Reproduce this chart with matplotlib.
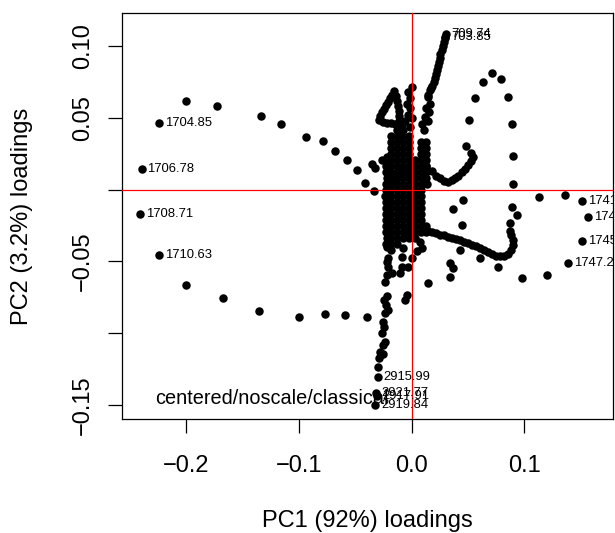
import matplotlib
matplotlib.use('Agg')
import matplotlib.pyplot as plt
from matplotlib.transforms import ScaledTranslation

# PCA loadings (PC1, PC2)

# labelled extreme wavenumbers
ext_names = ['1704.85', '1706.78', '1708.71', '1710.63', '709.74', '703.85',
             '1741.49', '1743.42', '1745.35', '1747.28',
             '2915.99', '2921.77', '2917.91', '2919.84']
ext_pc1 = [-0.2241, -0.2398, -0.2410, -0.2243, 0.0300, 0.0296,
           0.1514, 0.1562, 0.1514, 0.1389,
           -0.0302, -0.0319, -0.0310, -0.0326]
ext_pc2 = [0.0466, 0.0143, -0.0168, -0.0455, 0.1083, 0.1066,
           -0.0077, -0.0193, -0.0356, -0.0513,
           -0.1302, -0.1418, -0.1441, -0.1499]

# outer left arc
arc_pc1 = [-0.200, -0.1729, -0.200, -0.1672, -0.1352, -0.0999, -0.0771, -0.0589, -0.0399]
arc_pc2 = [0.0620, 0.0582, -0.0662, -0.0752, -0.0845, -0.0887, -0.0864, -0.0873, -0.0885]

# upper left chain
ul_pc1 = [-0.1339, -0.1159, -0.0935, -0.0789, -0.0678, -0.0571, -0.0482, -0.0417,
          -0.0334, -0.0355, -0.0326, -0.0266, -0.0222]
ul_pc2 = [0.0514, 0.0457, 0.0366, 0.0340, 0.0271, 0.0208, 0.0136, 0.0046,
          -0.0008, 0.0176, 0.0148, 0.0206, 0.0229]

# lower vertical chain (C-H stretch region)
low_pc1 = [-0.0222, -0.0208, -0.0222, -0.0237, -0.0216, -0.0246, -0.0228, -0.0208, -0.0237,
           -0.0252, -0.0246, -0.0266, -0.0237, -0.0255, -0.0281, -0.0257, -0.0290, -0.0296,
           -0.0222, -0.0208, -0.0177, -0.0075, -0.0089, -0.0089, -0.0104, -0.0044, -0.0059,
           0.0000, -0.0030, 0.0074, 0.0091, 0.0047]
low_pc2 = [-0.0502, -0.0537, -0.0594, -0.0641, -0.0741, -0.0768, -0.0803, -0.0838, -0.0861,
           -0.0919, -0.0956, -0.1000, -0.1059, -0.1082, -0.1128, -0.1144, -0.1172, -0.1238,
           -0.0397, -0.0478, -0.0583, -0.0409, -0.0467, -0.0537, -0.0583, -0.0734, -0.0768,
           -0.0478, -0.0537, -0.0365, -0.0406, -0.0428]

# scattered points right of the centre
rs_pc1 = [0.0142, 0.0340, 0.0369, 0.0340, 0.0428, 0.0606, 0.0763, 0.0976, 0.1200,
          0.1363, 0.1132, 0.0444, 0.0369, 0.0452, 0.0887, 0.0931, 0.0872]
rs_pc2 = [-0.0648, -0.0513, -0.0548, -0.0606, -0.0420, -0.0478, -0.0541, -0.0613, -0.0596,
          -0.0038, -0.0049, -0.0246, -0.0135, -0.0072, -0.0119, -0.0177, -0.0235]

# right loop
loop_pc1 = [0.0710, 0.0630, 0.0789, 0.0561, 0.0857, 0.0511, 0.0892, 0.0479, 0.0901, 0.0901]
loop_pc2 = [0.0809, 0.0751, 0.0770, 0.0635, 0.0647, 0.0484, 0.0454, 0.0303, 0.0236, 0.0039]

# hook below the horizontal line
hook_pc1 = [0.0109, 0.0145, 0.0180, 0.0216, 0.0251, 0.0287, 0.0322, 0.0357, 0.0393, 0.0428,
            0.0464, 0.0499, 0.0535, 0.0570, 0.0606, 0.0641, 0.0677, 0.0712, 0.0748, 0.0783,
            0.0819, 0.0854, 0.0881, 0.0894, 0.0894, 0.0881, 0.0872]
hook_pc2 = [-0.0274, -0.0285, -0.0295, -0.0302, -0.0313, -0.0319, -0.0330, -0.0337, -0.0347,
            -0.0354, -0.0365, -0.0375, -0.0386, -0.0396, -0.0410, -0.0424, -0.0438, -0.0452,
            -0.0462, -0.0466, -0.0462, -0.0448, -0.0420, -0.0386, -0.0351, -0.0316, -0.0288]

# arm above the horizontal line
arm_pc1 = [0.0089, 0.0127, 0.0177, 0.0216, 0.0251, 0.0287, 0.0325, 0.0357, 0.0384, 0.0411,
           0.0444, 0.0473, 0.0502, 0.0526, 0.0539, 0.0526]
arm_pc2 = [0.0206, 0.0164, 0.0129, 0.0098, 0.0079, 0.0063, 0.0056, 0.0067, 0.0081, 0.0098,
           0.0119, 0.0143, 0.0168, 0.0199, 0.0230, 0.0255]

# spike up to the top
spike_pc1 = [0.0291, 0.0282, 0.0273, 0.0264, 0.0255, 0.0248, 0.0242, 0.0233, 0.0224, 0.0216,
             0.0207, 0.0193, 0.0180, 0.0162, 0.0147, 0.0167, 0.0145, 0.0162, 0.0127, 0.0153,
             0.0118, 0.0145, 0.0091, 0.0109]
spike_pc2 = [0.1055, 0.1027, 0.0999, 0.0972, 0.0944, 0.0916, 0.0888, 0.0860, 0.0833, 0.0805,
             0.0777, 0.0749, 0.0721, 0.0693, 0.0658, 0.0707, 0.0644, 0.0596, 0.0568, 0.0540,
             0.0505, 0.0477, 0.0457, 0.0415]

# column on the vertical line
col_pc1 = [0.0000, -0.0030, -0.0015, -0.0042, -0.0015, -0.0033, 0.0000, -0.0059, -0.0015]
col_pc2 = [0.0716, 0.0679, 0.0635, 0.0596, 0.0566, 0.0519, 0.0496, 0.0477, 0.0438]

# the "4" shaped loop
four_pc1 = [-0.0157, -0.0175, -0.0192, -0.0210, -0.0228, -0.0246, -0.0263, -0.0281, -0.0290,
            -0.0255, -0.0219, -0.0184, -0.0148, -0.0113, -0.0086,
            -0.0144, -0.0130, -0.0122, -0.0117, -0.0113, -0.0113, -0.0104, -0.0104, -0.0095]
four_pc2 = [0.0686, 0.0662, 0.0638, 0.0613, 0.0589, 0.0564, 0.0540, 0.0512, 0.0484,
            0.0470, 0.0467, 0.0463, 0.0460, 0.0457, 0.0453,
            0.0651, 0.0617, 0.0582, 0.0547, 0.0512, 0.0477, 0.0436, 0.0394, 0.0352]

# dense core around the origin (strands from left to right)
core_pc1 = [
    -0.0229, -0.0226, -0.0231, -0.0224, -0.0230, -0.0227, -0.0233, -0.0225, -0.0230, -0.0228,
    -0.0232, -0.0226, -0.0229, -0.0224, -0.0231,
    -0.0186, -0.0181, -0.0187, -0.0183, -0.0180, -0.0188, -0.0184, -0.0179, -0.0186, -0.0182,
    -0.0189, -0.0183, -0.0180, -0.0187, -0.0184, -0.0181, -0.0186, -0.0183, -0.0188, -0.0182,
    -0.0131, -0.0128, -0.0133, -0.0127, -0.0130, -0.0134, -0.0129, -0.0126, -0.0132, -0.0130,
    -0.0127, -0.0133, -0.0129, -0.0131, -0.0126, -0.0132, -0.0130, -0.0128, -0.0133, -0.0129,
    -0.0076, -0.0079, -0.0074, -0.0078, -0.0075, -0.0080, -0.0077, -0.0073, -0.0078, -0.0076,
    -0.0079, -0.0074, -0.0077, -0.0080, -0.0075, -0.0078, -0.0076, -0.0073, -0.0079,
    -0.0023, -0.0026, -0.0021, -0.0025, -0.0022, -0.0027, -0.0024, -0.0020, -0.0025, -0.0023,
    -0.0026, -0.0021, -0.0024, -0.0027, -0.0022, -0.0025, -0.0023, -0.0026,
    0.0030, 0.0027, 0.0032, 0.0028, 0.0031, 0.0026, 0.0029, 0.0033, 0.0028, 0.0030,
    0.0027, 0.0032, 0.0029, 0.0026,
    0.0084, 0.0081, 0.0086, 0.0082, 0.0085, 0.0080, 0.0083, 0.0087, 0.0082, 0.0084,
    0.0079, 0.0085, 0.0083, 0.0081, 0.0086, 0.0082,
    0.0128, 0.0125, 0.0130, 0.0126, 0.0129, 0.0124, 0.0127, 0.0131, 0.0126, 0.0129]
core_pc2 = [
    0.0206, 0.0166, 0.0121, 0.0083, 0.0037, -0.0005, -0.0043, -0.0088, -0.0126, -0.0172,
    -0.0210, -0.0255, -0.0293, -0.0339, -0.0377,
    0.0374, 0.0329, 0.0292, 0.0246, 0.0208, 0.0162, 0.0124, 0.0079, 0.0041, -0.0001,
    -0.0047, -0.0084, -0.0130, -0.0168, -0.0214, -0.0251, -0.0297, -0.0335, -0.0381, -0.0418,
    0.0413, 0.0375, 0.0330, 0.0291, 0.0247, 0.0205, 0.0166, 0.0120, 0.0082, 0.0038,
    -0.0004, -0.0046, -0.0087, -0.0127, -0.0171, -0.0211, -0.0254, -0.0294, -0.0338, -0.0378,
    0.0416, 0.0372, 0.0332, 0.0289, 0.0249, 0.0207, 0.0163, 0.0123, 0.0080, 0.0040,
    -0.0002, -0.0044, -0.0085, -0.0129, -0.0169, -0.0213, -0.0252, -0.0296, -0.0336,
    0.0371, 0.0333, 0.0288, 0.0250, 0.0204, 0.0165, 0.0121, 0.0082, 0.0038, -0.0002,
    -0.0046, -0.0087, -0.0127, -0.0171, -0.0211, -0.0254, -0.0294, -0.0338,
    0.0207, 0.0163, 0.0123, 0.0080, 0.0040, -0.0004, -0.0044, -0.0085, -0.0129, -0.0169,
    -0.0213, -0.0252, -0.0296, -0.0336,
    0.0330, 0.0292, 0.0247, 0.0207, 0.0165, 0.0121, 0.0082, 0.0038, -0.0004, -0.0045,
    -0.0087, -0.0127, -0.0171, -0.0212, -0.0254, -0.0295,
    0.0332, 0.0289, 0.0248, 0.0206, 0.0164, 0.0123, 0.0080, 0.0039, -0.0253, -0.0294]

xticks = [-0.2, -0.1, 0.0, 0.1]
xtick_labels = ['\u22120.2', '\u22120.1', '0.0', '0.1']
yticks = [-0.15, -0.10, -0.05, 0.0, 0.05, 0.10]
ytick_labels = ['\u22120.15', '', '\u22120.05', '', '0.05', '0.10']

plt.rcParams['font.family'] = ['Liberation Sans', 'DejaVu Sans']

fig = plt.figure(figsize=(6.15, 5.33), dpi=100)
ax = fig.add_axes([0.1984, 0.2133, 0.7984, 0.7629])

groups = [(arc_pc1, arc_pc2), (ul_pc1, ul_pc2), (low_pc1, low_pc2), (rs_pc1, rs_pc2),
          (loop_pc1, loop_pc2), (hook_pc1, hook_pc2), (arm_pc1, arm_pc2),
          (spike_pc1, spike_pc2), (col_pc1, col_pc2), (four_pc1, four_pc2),
          (core_pc1, core_pc2), (ext_pc1, ext_pc2)]
for gx, gy in groups:
    ax.plot(gx, gy, 'o', color='black', ms=6.1, mew=0, zorder=2)

ax.axhline(0, color='red', lw=0.9, zorder=3)
ax.axvline(0, color='red', lw=0.9, zorder=3)

# labels to the right of the extreme points (clipped to the plot box like R)
shift = ax.transData + ScaledTranslation(4.3 / 72, 0, fig.dpi_scale_trans)
for x, y, name in zip(ext_pc1, ext_pc2, ext_names):
    ax.text(x, y, name, transform=shift, fontsize=9.4, ha='left', va='center',
            clip_on=True, zorder=4)

ax.text(-0.2278, -0.1493, 'centered/noscale/classical', fontsize=14.3,
        ha='left', va='baseline', zorder=4)

ax.set_xlim(-0.2571, 0.1786)
ax.set_ylim(-0.160, 0.1232)
ax.set_xticks(xticks)
ax.set_xticklabels(xtick_labels)
ax.set_yticks(yticks)
ax.set_yticklabels(ytick_labels)
ax.tick_params(length=10.1, width=0.9, labelsize=17, direction='out')
ax.tick_params(axis='x', pad=15.4)
ax.tick_params(axis='y', pad=10)
for lab in ax.get_yticklabels():
    lab.set_rotation(90)
    lab.set_va('center')
for sp in ax.spines.values():
    sp.set_linewidth(0.9)

ax.set_xlabel('PC1 (92%) loadings', fontsize=17, va='center')
ax.xaxis.set_label_coords(0.5, -0.2496)
ax.set_ylabel('PC2 (3.2%) loadings', fontsize=17, va='center')
ax.yaxis.set_label_coords(-0.2047, 0.5)

fig.savefig('out.png', dpi=100)
